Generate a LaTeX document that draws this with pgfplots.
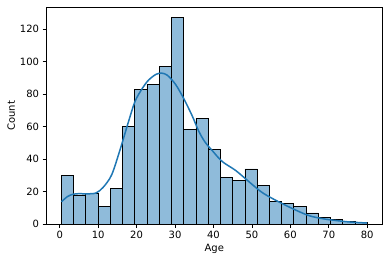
\documentclass[border=0pt]{standalone}
\usepackage{pgfplots}
\pgfplotsset{compat=1.18}
\usepackage{fontspec}
\setmainfont{DejaVu Sans}
\definecolor{barfill}{HTML}{8FBBDA}
\definecolor{kde}{HTML}{1F77B4}
\begin{document}
\begin{tikzpicture}
\useasboundingbox (-46pt,-38pt) rectangle (342.5pt,224pt);
\begin{axis}[
  at={(0,0)}, anchor=south west,
  scale only axis, width=336pt, height=217pt,
  xmin=-3.56, xmax=83.98, ymin=0, ymax=133.4,
  xtick={0,10,...,80}, ytick={0,20,...,120},
  tick align=outside, tick pos=left,
  major tick length=3.5pt,
  axis line style={black, line width=0.6pt},
  every tick/.style={black, line width=0.6pt},
  tick label style={font=\fontsize{10}{12}\selectfont},
  label style={font=\fontsize{10}{12}\selectfont},
  /pgf/number format/assume math mode=true,
  xlabel={Age}, ylabel={Count},
  xlabel style={yshift=2pt},
  ylabel style={yshift=-2pt},
  axis on top=false,
]
\addplot[ybar interval, fill=barfill, draw=black, line width=0.7pt] coordinates {
(0.42,30) (3.6032,18) (6.7864,19) (9.9696,11) (13.1528,22) (16.336,60)
(19.5192,83) (22.7024,86) (25.8856,97) (29.0688,127) (32.252,58) (35.4352,65)
(38.6184,46) (41.8016,29) (44.9848,27) (48.168,34) (51.3512,24) (54.5344,14)
(57.7176,13) (60.9008,11) (64.084,7) (67.2672,4) (70.4504,3) (73.6336,2)
(76.8168,1) (80.0,1)
};
\addplot[kde, line width=1.5pt, smooth, tension=0.5] coordinates {
(0.42,13.8) (2,17) (3.4,18.4) (5,18.8) (6.9,18.7) (9.4,19.2) (11.3,22.7)
(13.5,30.3) (15.7,45.8) (17.8,62.3) (19.6,75.5) (21.5,83.5) (23.1,88.5)
(25,92) (26.5,92.8) (28,91.5) (30.1,86) (32.2,77.5) (34.5,66.4) (36.2,57)
(37.8,50.5) (39.7,45.2) (42.3,38.5) (45.8,33) (49.3,26) (52.8,19.3)
(57.2,13.5) (61.6,8.5) (65,5.2) (68.5,3.4) (71.2,2.5) (75.5,1.4) (80,0.8)
};
\end{axis}
\end{tikzpicture}
\end{document}
